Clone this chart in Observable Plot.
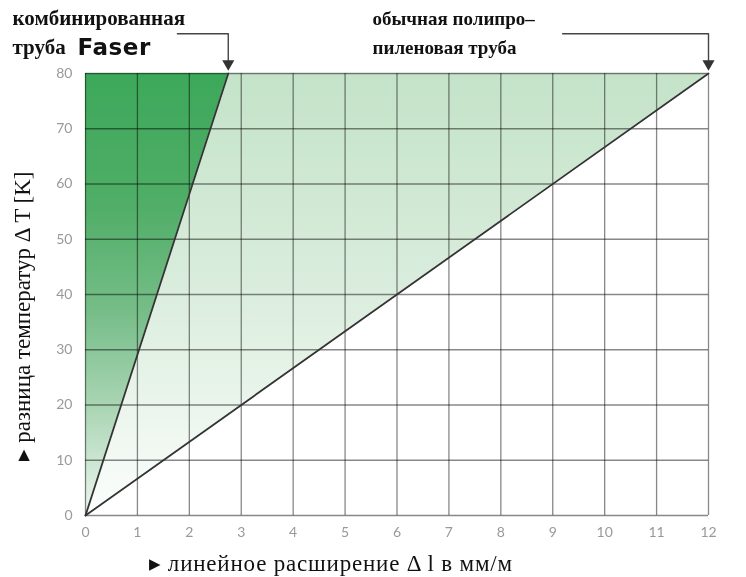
<!DOCTYPE html>
<html>
<head>
<meta charset="utf-8">
<script src="https://cdn.jsdelivr.net/npm/d3@7"></script>
<script src="https://cdn.jsdelivr.net/npm/@observablehq/plot@0.6"></script>
<style>
  html, body { margin: 0; padding: 0; background: #fff; }
  #chart svg { display: block; }
</style>
</head>
<body>
<div id="chart"></div>
<script>
// ---- data ----
const xTicks = [0, 1, 2, 3, 4, 5, 6, 7, 8, 9, 10, 11, 12];
const yTicks = [0, 10, 20, 30, 40, 50, 60, 70, 80];
// Faser composite pipe: linear expansion (mm/m) vs temperature difference (K)
const faserX = [0, 2.75];
const faserT = [0, 80];
// ordinary polypropylene pipe
const ppX = [0, 12];
const ppT = [0, 80];
// callout elbows (data units) pointing to the line ends
const faserCalloutX = [1.77, 2.75, 2.75];
const faserCalloutT = [87.2, 87.2, 81.2];
const ppCalloutX = [9.19, 12, 12];
const ppCalloutT = [87.2, 87.2, 81.2];

const labelFaser1 = "комбинированная";
const labelFaser2a = "труба";
const labelFaser2b = "Faser";
const labelPP1 = "обычная полипро–";
const labelPP2 = "пиленовая труба";
const xTitle = "линейное расширение Δ l в мм/м";
const yTitle = "разница температур Δ T [K]";

// ---- derived tables ----
const faserLine = faserX.map((x, i) => ({x, t: faserT[i]}));
const ppLine = ppX.map((x, i) => ({x, t: ppT[i]}));
const darkArea = faserT.map((t, i) => ({t, x1: 0, x2: faserX[i]}));
const lightArea = faserT.map((t, i) => ({t, x1: faserX[i], x2: ppX[i]}));
const faserCallout = faserCalloutX.map((x, i) => ({x, t: faserCalloutT[i]}));
const ppCallout = ppCalloutX.map((x, i) => ({x, t: ppCalloutT[i]}));
const heads = [faserCallout[2], ppCallout[2]];

const serif = "'Liberation Serif', 'Times New Roman', serif";
const sans = "'DejaVu Sans', sans-serif";
const tickFont = "Lato, 'DejaVu Sans', sans-serif";

const chart = Plot.plot({
  width: 746,
  height: 577,
  marginLeft: 85,
  marginRight: 38,
  marginTop: 73,
  marginBottom: 62,
  style: {background: "#fff", overflow: "visible"},
  x: {domain: [0, 12], ticks: xTicks},
  y: {domain: [0, 80], ticks: yTicks},
  marks: [
    Plot.areaX(lightArea, {y: "t", x1: "x1", x2: "x2", fill: "url(#gLight)"}),
    Plot.areaX(darkArea, {y: "t", x1: "x1", x2: "x2", fill: "url(#gDark)"}),
    Plot.gridX(xTicks, {stroke: "#888", strokeOpacity: 1, strokeWidth: 1.3, mixBlendMode: "multiply"}),
    Plot.gridY(yTicks, {stroke: "#888", strokeOpacity: 1, strokeWidth: 1.3, mixBlendMode: "multiply"}),
    Plot.axisX(xTicks, {tickSize: 0, tickPadding: 12, fontSize: 14, fill: "#999", fontFamily: tickFont, label: null}),
    Plot.axisY(yTicks, {tickSize: 0, tickPadding: 13, fontSize: 14, fill: "#999", fontFamily: tickFont, label: null}),
    Plot.line(faserLine, {x: "x", y: "t", stroke: "#333", strokeWidth: 1.8}),
    Plot.line(ppLine, {x: "x", y: "t", stroke: "#333", strokeWidth: 1.8}),
    Plot.line(faserCallout, {x: "x", y: "t", stroke: "#444", strokeWidth: 1.4, clip: false}),
    Plot.line(ppCallout, {x: "x", y: "t", stroke: "#444", strokeWidth: 1.4, clip: false}),
    Plot.dot(heads, {x: "x", y: "t", symbol: "triangle", rotate: 180, r: 4.5, fill: "#333", stroke: "none", dy: -3}),
    // annotation labels
    Plot.text([labelFaser1], {frameAnchor: "top-left", lineAnchor: "middle", dx: -73, dy: -55, text: d => d, textAnchor: "start", fontFamily: serif, fontWeight: "bold", fontSize: 21, fill: "#111"}),
    Plot.text([labelFaser2a], {frameAnchor: "top-left", lineAnchor: "middle", dx: -73, dy: -26, text: d => d, textAnchor: "start", fontFamily: serif, fontWeight: "bold", fontSize: 21, fill: "#111"}),
    Plot.text([labelFaser2b], {frameAnchor: "top-left", lineAnchor: "middle", dx: -8, dy: -26, text: d => d, textAnchor: "start", fontFamily: sans, fontWeight: "bold", fontSize: 23, fill: "#111"}),
    Plot.text([labelPP1], {frameAnchor: "top-left", lineAnchor: "middle", dx: 287, dy: -55, text: d => d, textAnchor: "start", fontFamily: serif, fontWeight: "bold", fontSize: 19, fill: "#111"}),
    Plot.text([labelPP2], {frameAnchor: "top-left", lineAnchor: "middle", dx: 287, dy: -26, text: d => d, textAnchor: "start", fontFamily: serif, fontWeight: "bold", fontSize: 19, fill: "#111"}),
    // axis titles
    Plot.text(["▸ " + xTitle], {frameAnchor: "bottom-left", lineAnchor: "middle", dx: 63, dy: 48, text: d => d, textAnchor: "start", fontFamily: serif, fontSize: 23, fill: "#111"}),
    Plot.text(["▸ " + yTitle], {frameAnchor: "bottom-left", lineAnchor: "middle", dx: -63, dy: -55, rotate: -90, text: d => d, textAnchor: "start", fontFamily: serif, fontSize: 23, fill: "#111"})
  ]
});

// gradients for the shaded regions
const defs = d3.select(chart).insert("defs", ":first-child");
const grad = (id, stops) => {
  const g = defs.append("linearGradient").attr("id", id).attr("x1", 0).attr("y1", 0).attr("x2", 0).attr("y2", 1);
  stops.forEach(([o, c]) => g.append("stop").attr("offset", o).attr("stop-color", c));
};
grad("gDark", [[0, "#3ca85a"], [0.3, "#50ae67"], [0.55, "#78be8a"], [0.78, "#b0d8b9"], [1, "#eef7f0"]]);
grad("gLight", [[0, "#c4e3c8"], [0.45, "#d8ecdb"], [0.75, "#eaf5ec"], [1, "#fcfefc"]]);

// slight letter spacing to match the wider set text of the reference
d3.select(chart).selectAll("text")
  .filter(function () { return this.textContent === "▸ " + xTitle; })
  .style("letter-spacing", "0.8px");
d3.select(chart).selectAll("text")
  .filter(function () { return this.textContent === labelFaser2b; })
  .style("letter-spacing", "0.6px");

document.getElementById("chart").appendChild(chart);
</script>
</body>
</html>
